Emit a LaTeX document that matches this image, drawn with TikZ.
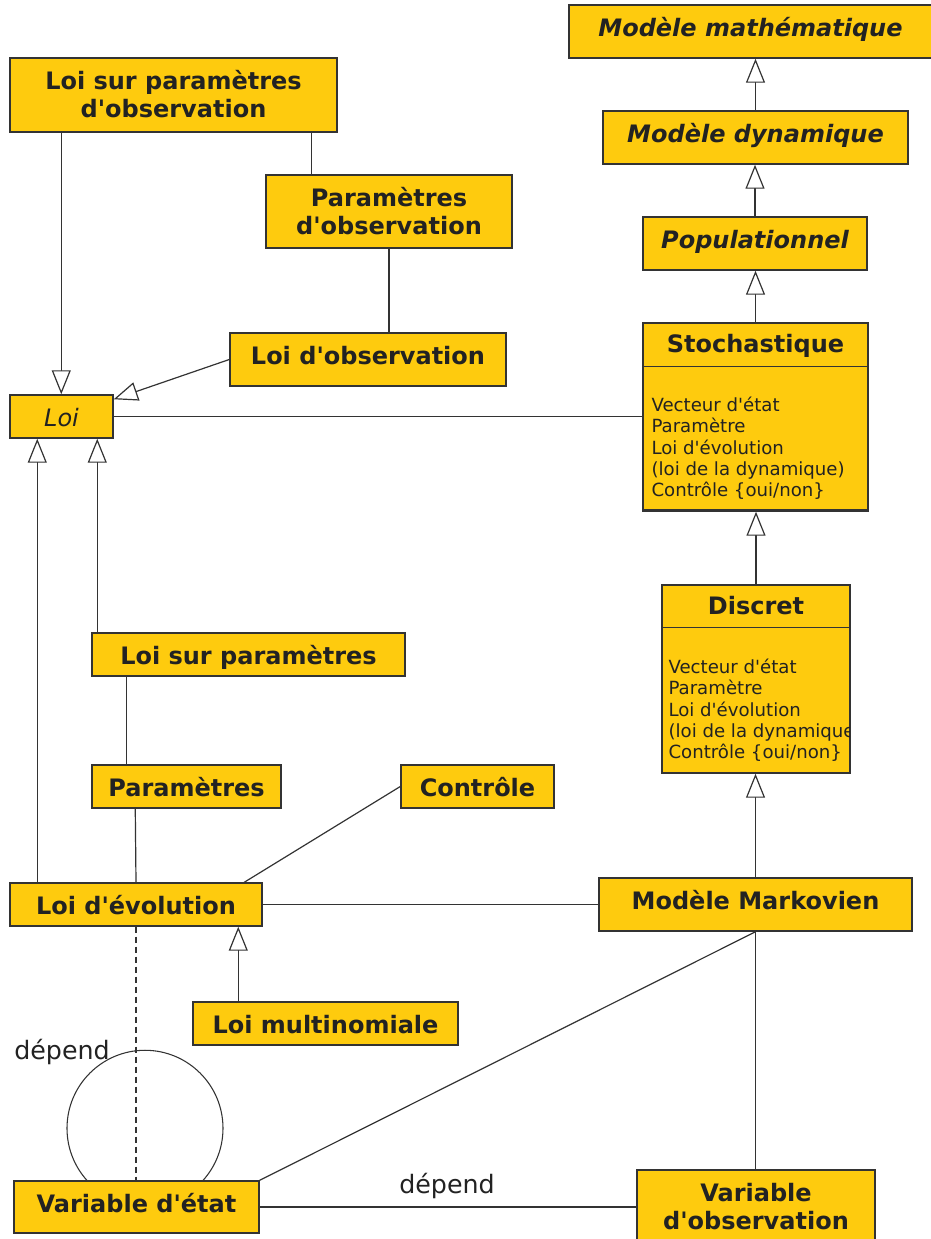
\documentclass[tikz,border=0pt]{standalone}
\usepackage{fontspec}
\setmainfont{DejaVu Sans}[Ligatures=TeXOff]
\usetikzlibrary{arrows.meta,calc,backgrounds}
\definecolor{boxfill}{RGB}{254,203,14}
\definecolor{linec}{RGB}{51,51,51}
\definecolor{textc}{RGB}{34,34,34}
% name, x1, y1, x2, y2, style, text  (first baseline 31px below the top)
\newcommand\umlbox[7]{%
  \node[#6, minimum width={(#4-#2)*0.75pt}, minimum height={(#5-#3)*0.75pt},
        text height=15pt, text depth={(#5-#3-42)*0.75pt}] (#1) at ({(#2+#4)/2},{(#3+#5)/2}) {#7};}
% two-line variant (second baseline 59px below the top)
\newcommand\umlboxii[7]{%
  \node[#6, minimum width={(#4-#2)*0.75pt}, minimum height={(#5-#3)*0.75pt},
        text height=36pt, text depth={(#5-#3-70)*0.75pt}] (#1) at ({(#2+#4)/2},{(#3+#5)/2}) {#7};}
\tikzset{
  box/.style={draw=linec, fill=boxfill, line width=1.1pt, inner sep=0pt, text=textc,
    font=\fontsize{18}{21}\selectfont\bfseries, align=center},
  ibox/.style={box, font=\fontsize{18}{21}\selectfont\bfseries\itshape},
  rbox/.style={box, font=\fontsize{18}{21}\selectfont\itshape},
  ttl/.style={inner sep=0pt, anchor=base, text=textc, font=\fontsize{18}{21}\selectfont\bfseries},
  attr/.style={inner sep=0pt, text=textc, align=left, anchor=west, font=\fontsize{13.6}{16}\selectfont},
  lbl/.style={inner sep=0pt, text=textc, font=\fontsize{19}{22}\selectfont},
  conn/.style={draw=linec, line width=0.9pt},
  gen/.style={conn, -{Triangle[length=18pt, width=14.25pt, fill=white]}},
}
\begin{document}
\begin{tikzpicture}[x=0.75pt, y=-0.75pt]
\useasboundingbox (0,0) rectangle (931,1239);
% boxes
\umlbox{mm}{569}{5}{932}{58}{ibox}{Modèle mathématique}
\umlbox{md}{603}{111}{908}{164}{ibox}{Modèle dynamique}
\umlbox{pop}{643}{217}{867}{270}{ibox}{Populationnel}
\umlbox{sto}{643}{323}{868}{511}{box}{}
\umlbox{dis}{662}{585}{850}{773}{box}{}
\umlboxii{lspo}{10}{58}{337}{132}{box}{Loi sur paramètres\\d'observation}
\umlboxii{po}{266}{175}{512}{248}{box}{Paramètres\\d'observation}
\umlbox{lo}{230}{333}{506}{386}{box}{Loi d'observation}
\umlbox{loi}{10}{395}{113}{438}{rbox}{Loi}
\umlbox{lsp}{92}{633}{405}{676}{box}{Loi sur paramètres}
\umlbox{par}{92}{765}{281}{808}{box}{Paramètres}
\umlbox{ctl}{401}{765}{554}{808}{box}{Contrôle}
\umlbox{lev}{10}{883}{262}{926}{box}{Loi d'évolution}
\umlbox{lmu}{193}{1002}{458}{1045}{box}{Loi multinomiale}
\umlbox{mmk}{599}{878}{912}{931}{box}{Modèle Markovien}
\umlbox{vet}{14}{1181}{259}{1233}{box}{Variable d'état}
\umlboxii{vob}{637}{1170}{875}{1244}{box}{Variable\\d'observation}
% class compartments
\draw[conn] ($(sto.north west)+(0,44)$) -- ($(sto.north east)+(0,44)$);
\draw[conn, line width=0.5pt] ($(sto.south west)+(0,-2.5)$) -- ($(sto.south east)+(0,-2.5)$);
\node[ttl] (stoT) at ($(sto.north)+(0,30.5)$) {Stochastique};
\node[attr] (stoA) at ($(sto.west)+(9,31.5)$) {Vecteur d'état\\Paramètre\\Loi d'évolution\\(loi de la dynamique)\\Contrôle \{oui/non\}};
\draw[conn] ($(dis.north west)+(0,43)$) -- ($(dis.north east)+(0,43)$);
\node[ttl] (disT) at ($(dis.north)+(0,30.5)$) {Discret};
\begin{scope}
\clip ($(dis.south west)+(1,0)$) rectangle ($(dis.north east)+(-1,0)$);
\node[attr] (disA) at ($(dis.west)+(7,31.5)$) {Vecteur d'état\\Paramètre\\Loi d'évolution\\(loi de la dynamique)\\Contrôle \{oui/non\}};
\end{scope}
% generalisations
\draw[gen] (md.north) -- (md.north |- mm.south);
\draw[gen] (pop.north) -- (pop.north |- md.south);
\draw[gen] (sto.north) -- (sto.north |- pop.south);
\draw[gen] (dis.north) -- (dis.north |- sto.south);
\draw[gen] (mmk.north) -- (mmk.north |- dis.south);
\draw[gen] ($(lspo.south west)+(52,0)$) -- ($(loi.north west)+(52,0)$);
\draw[gen] (lo.west) -- ($(loi.north east)+(0,5)$);
\draw[gen] ($(lev.north west)+(28,0)$) -- ($(loi.south west)+(28,0)$);
\draw[gen] ($(lsp.north west)+(6,0)$) -- ($(loi.south west)+(88,0)$);
\draw[gen] ($(lmu.north west)+(46,0)$) -- ($(lev.south west)+(229,0)$);
% associations
\draw[conn] ($(lspo.south west)+(302,0)$) -- ($(po.north west)+(46,0)$);
\draw[conn] (po.south) -- (po.south |- lo.north);
\draw[conn] (loi.east) -- (loi.east -| sto.west);
\draw[conn] ($(lsp.south west)+(35,0)$) -- ($(par.north west)+(35,0)$);
\draw[conn] ($(par.south west)+(44,0)$) -- (lev.north);
\draw[conn] (ctl.west) -- ($(lev.north west)+(235,0)$);
\draw[conn] (lev.east) -- (lev.east -| mmk.west);
\draw[conn, dash pattern=on 5pt off 2.5pt] (lev.south) -- (lev.south |- vet.north);
\draw[conn] (vet.north east) -- (mmk.south);
\draw[conn] (mmk.south) -- (mmk.south |- vob.north);
\draw[conn] (vet.east) -- (vet.east -| vob.west);
\begin{scope}[on background layer]
\draw[conn, line width=0.8pt] ($(vet.north)+(8.5,-52)$) circle[radius=58.5pt];
\end{scope}
% labels
\node[lbl] (dep1) at (62,1052) {dépend};
\node[lbl] (dep2) at (447,1186) {dépend};
\end{tikzpicture}
\end{document}
